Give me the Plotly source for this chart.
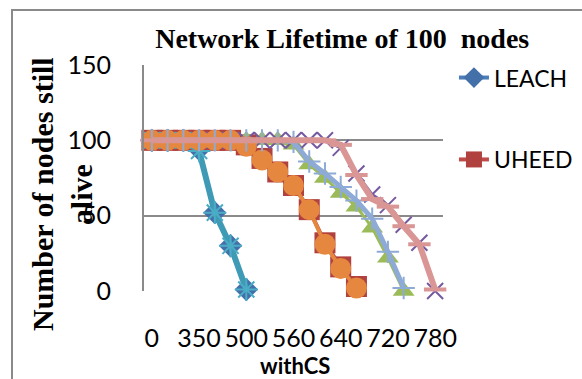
import plotly.graph_objects as go

# Simulation rounds (category axis); only every third one is labelled
rounds = [0, 150, 250, 350, 400, 450, 500, 520, 540, 560, 580, 600,
          640, 660, 690, 720, 740, 760, 780]
labelled_rounds = [0, 350, 500, 560, 640, 720, 780]

# Number of nodes still alive per round
leach      = [100, 100, 100, 94, 52, 30, 1]
uheed      = [100, 100, 100, 100, 100, 100, 97, 88, 79, 70, 54, 32, 16, 3]
series3    = [100, 100, 100, 100, 100, 100, 100, 100, 100, 97, 84, 75, 65, 56, 42, 22, 0]
series4    = [100, 100, 100, 100, 100, 100, 100, 100, 100, 100, 100, 100, 95, 78, 64, 57, 44, 32, 0]
series5    = [100, 100, 100, 93, 52, 30, 1]
series6    = [100, 100, 100, 100, 100, 100, 96, 87, 79, 70, 54, 31, 15, 2]
series7    = [100, 100, 100, 100, 100, 100, 100, 100, 100, 99, 86, 78, 69, 60, 48, 26, 2]
series8    = [100, 100, 100, 100, 100, 100, 100, 100, 100, 100, 100, 100, 97, 77, 61, 56, 43, 31, 1]

cats = [str(r) for r in rounds]

styles = [
    # name, values, line colour, line width, marker symbol, marker size, marker colour, marker line width, legend
    ("LEACH", leach, "#4A7EBB", 4, "diamond", 18, "#4470AA", 0, True),
    ("UHEED", uheed, "#BE4B48", 4, "square", 21, "#B0413E", 0, True),
    ("Series3", series3, "#9BBB59", 3, "triangle-up", 19, "#9BBB59", 0, False),
    ("Series4", series4, "#8064A2", 3, "x-thin-open", 16, "#7559A0", 2, False),
    ("Series5", series5, "#3F9AB6", 6, "asterisk-open", 19, "#4BACC6", 2, False),
    ("Series6", series6, "#E5873F", 4, "circle", 21, "#E5873F", 0, False),
    ("Series7", series7, "#8EAAD6", 5, "cross-thin-open", 16, "#8EAAD6", 2, False),
    ("Series8", series8, "#D99694", 6, "line-ew-open", 16, "#D99694", 4, False),
]

fig = go.Figure()
for name, vals, lc, lw, sym, ms, mc, mlw, show in styles:
    x = cats[:len(vals)]
    fig.add_trace(go.Scatter(
        x=x, y=vals, mode="lines+markers", name=name,
        legendgroup=name, showlegend=show,
        line=dict(color=lc, width=lw),
        marker=dict(symbol=sym, size=ms, color=mc,
                    line=dict(color=mc, width=mlw)),
        cliponaxis=False,
    ))

tick_font = dict(family="Lato", size=25, color="#000000")
grid_col = "#8A8A8A"

fig.update_layout(
    width=582, height=379,
    margin=dict(l=144, r=139, t=65, b=88, autoexpand=False),
    paper_bgcolor="white", plot_bgcolor="white",
    title=dict(text="Network Lifetime of 100\u00a0 nodes",
               font=dict(family="Liberation Serif", size=28, color="#000000", weight="bold"),
               x=0.588, xref="container", xanchor="center",
               y=0.90, yref="container", yanchor="middle"),
    xaxis=dict(type="category", categoryorder="array", categoryarray=cats,
               range=[-0.5, len(cats) - 0.5],
               tickmode="array", tickvals=[str(v) for v in labelled_rounds],
               ticktext=[str(v) for v in labelled_rounds], tickangle=0,
               tickfont=tick_font, showgrid=False, zeroline=False,
               showline=False, ticks="", ticklabelstandoff=30, automargin=False),
    yaxis=dict(range=[0, 150], tickvals=[0, 50, 100, 150],
               tickfont=tick_font, showgrid=True, gridcolor=grid_col, gridwidth=2,
               zeroline=False, showline=True, linecolor=grid_col, linewidth=2,
               ticks="", ticklabelstandoff=26, automargin=False),
    legend=dict(x=0.78, y=0.852, xref="container", yref="container",
                xanchor="left", yanchor="top",
                font=dict(family="Lato", size=23, color="#000000"),
                tracegroupgap=49, traceorder="grouped",
                bgcolor="rgba(0,0,0,0)"),
    showlegend=True,
)

# Axis titles
fig.add_annotation(text="Number of nodes still<br>alive", textangle=-90,
                   xref="paper", yref="paper",
                   x=(62 - 144) / 299, y=(291 - 194) / 226,
                   xanchor="center", yanchor="middle", showarrow=False,
                   font=dict(family="Liberation Serif", size=30, color="#000000", weight="bold"))
fig.add_annotation(text="withCS", xref="paper", yref="paper",
                   x=(295 - 144) / 299, y=(291 - 365) / 226,
                   xanchor="center", yanchor="middle", showarrow=False,
                   font=dict(family="Lato", size=22, color="#000000", weight="bold"))

# Chart-area border
fig.add_shape(type="rect", xref="paper", yref="paper",
              x0=(12 - 144) / 299, x1=(600 - 144) / 299,
              y0=(291 - 400) / 226, y1=(291 - 10) / 226,
              line=dict(color="#8A8A8A", width=2), fillcolor="rgba(0,0,0,0)",
              layer="below")

fig.write_html("out.html")
